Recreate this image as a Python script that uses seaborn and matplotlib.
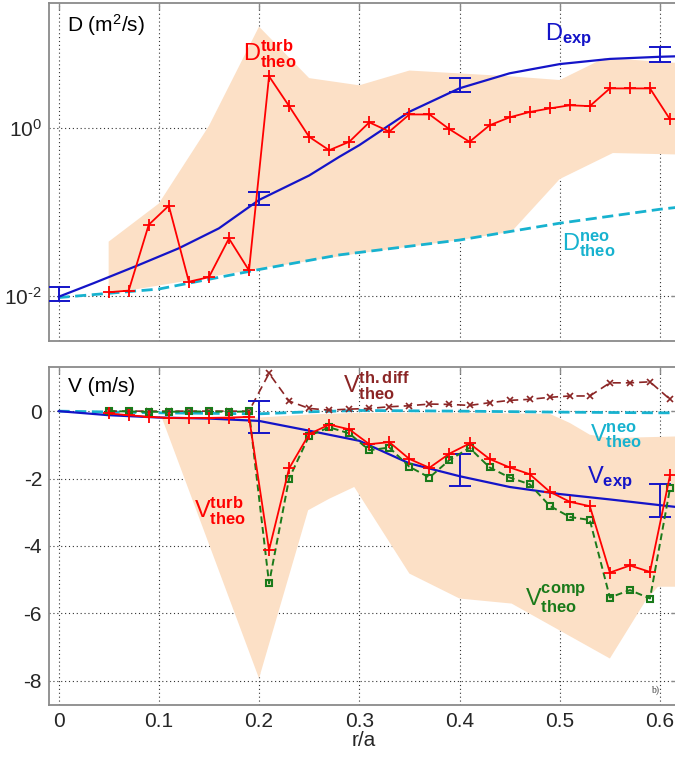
import numpy as np
import matplotlib
matplotlib.use("Agg")
import matplotlib.pyplot as plt
import seaborn as sns

# --- data ---
# radial grid of the turbulence simulations
r_sim = [0.05, 0.07, 0.09, 0.11, 0.13, 0.15, 0.17, 0.19, 0.21, 0.23,
         0.25, 0.27, 0.29, 0.31, 0.33, 0.35, 0.37, 0.39, 0.41, 0.43,
         0.45, 0.47, 0.49, 0.51, 0.53, 0.55, 0.57, 0.59, 0.61]

# top panel: diffusion (m^2/s)
d_turb = [0.011, 0.0115, 0.070, 0.118, 0.0147, 0.0166, 0.048, 0.020, 4.1, 1.81,
          0.78, 0.54, 0.68, 1.16, 0.90, 1.44, 1.44, 0.96, 0.68, 1.07,
          1.33, 1.54, 1.70, 1.85, 1.81, 2.94, 2.94, 2.94, 1.26]

r_exp = [0.0, 0.035, 0.08, 0.12, 0.16, 0.2, 0.25, 0.28, 0.3, 0.35, 0.4, 0.45, 0.5, 0.55, 0.6, 0.618]
d_exp = [0.0097, 0.0141, 0.0232, 0.0367, 0.0634, 0.138, 0.27, 0.45, 0.62, 1.55, 2.95, 4.45, 5.73, 6.6, 7.0, 7.1]

r_neo = [0.0, 0.1, 0.2, 0.28, 0.4, 0.45, 0.5, 0.6, 0.618]
d_neo = [0.0095, 0.012, 0.0205, 0.0306, 0.046, 0.058, 0.073, 0.107, 0.113]

d_err_r = [0.0, 0.2, 0.4, 0.6]
d_err_lo = [0.00865, 0.12, 2.69, 6.1]
d_err_hi = [0.0127, 0.171, 3.87, 9.06]

d_band_top_r = [0.05, 0.1, 0.15, 0.2, 0.25, 0.3, 0.35, 0.45, 0.5, 0.545, 0.618]
d_band_top = [0.044, 0.125, 1.05, 16.0, 3.9, 3.2, 4.8, 4.1, 3.7, 6.8, 5.9]
d_band_bot_r = [0.05, 0.2, 0.3, 0.4, 0.452, 0.5, 0.553, 0.618]
d_band_bot = [0.0105, 0.021, 0.032, 0.046, 0.058, 0.245, 0.50, 0.48]

# bottom panel: convection (m/s)
v_turb = [-0.07, -0.12, -0.17, -0.20, -0.20, -0.20, -0.19, -0.17, -4.12, -1.70,
          -0.68, -0.40, -0.54, -0.98, -0.92, -1.42, -1.68, -1.26, -0.96, -1.42,
          -1.67, -1.87, -2.39, -2.69, -2.82, -4.79, -4.58, -4.77, -1.90]
v_comp = [0.0, -0.01, -0.02, -0.02, -0.01, -0.01, -0.02, -0.01, -5.11, -2.0,
          -0.73, -0.48, -0.66, -1.16, -1.08, -1.65, -1.97, -1.45, -1.09, -1.67,
          -1.97, -2.17, -2.81, -3.14, -3.23, -5.53, -5.31, -5.56, -2.29]
v_thdiff = [0.0, 0.0, 0.0, 0.0, 0.0, 0.0, 0.0, 0.0, 1.12, 0.30,
            0.08, 0.03, 0.06, 0.08, 0.13, 0.16, 0.21, 0.20, 0.17, 0.25,
            0.32, 0.35, 0.41, 0.45, 0.45, 0.84, 0.84, 0.87, 0.35]

rv_exp = [0.0, 0.05, 0.1, 0.15, 0.2, 0.25, 0.3, 0.35, 0.4, 0.45, 0.5, 0.55, 0.6, 0.618]
v_exp = [0.0, -0.12, -0.19, -0.22, -0.29, -0.58, -0.88, -1.55, -1.93, -2.25, -2.46, -2.62, -2.79, -2.85]

rv_neo = [0.0, 0.1, 0.2, 0.25, 0.3, 0.4, 0.5, 0.6, 0.618]
v_neo = [0.0, -0.05, -0.08, -0.02, 0.02, 0.0, -0.03, -0.05, -0.05]

v_err_r = [0.2, 0.4, 0.6]
v_err_lo = [-0.66, -2.22, -3.14]
v_err_hi = [0.30, -1.28, -2.17]

v_band_top_r = [0.103, 0.2, 0.25, 0.3, 0.4, 0.49, 0.51, 0.53, 0.55, 0.618]
v_band_top = [-0.19, -0.19, -0.1, -0.05, -0.05, -0.08, -0.35, -0.70, -0.80, -0.75]
v_band_bot_r = [0.103, 0.2, 0.249, 0.27, 0.295, 0.35, 0.40, 0.452, 0.55, 0.586, 0.598, 0.618]
v_band_bot = [-0.19, -7.93, -2.94, -2.6, -2.25, -4.82, -5.56, -5.71, -7.34, -5.61, -5.21, -5.21]

x_ticks = [0, 0.1, 0.2, 0.3, 0.4, 0.5, 0.6]
x_ticklabels = ['0', '0.1', '0.2', '0.3', '0.4', '0.5', '0.6']
d_ticks = [1e-2, 1e0]
d_ticklabels = ['$10^{\u20102}$', '$10^{0}$']
v_ticks = [-8, -6, -4, -2, 0]

# --- style ---
sns.set_style("white")
plt.rcParams['font.family'] = ['Liberation Sans', 'DejaVu Sans']
plt.rcParams['mathtext.fontset'] = 'custom'
plt.rcParams['mathtext.rm'] = 'Liberation Sans'
plt.rcParams['mathtext.it'] = 'Liberation Sans:italic'
plt.rcParams['mathtext.bf'] = 'Liberation Sans:bold'
plt.rcParams['axes.unicode_minus'] = False

RED = '#FF0000'
BLUE = '#1414C8'
CYAN = '#17B2CF'
GREEN = '#1A7A1A'
MAROON = '#8B2525'
PEACH = '#FCE0C6'
SPINE = '#8A8A8A'

fig = plt.figure(figsize=(6.75, 7.58), dpi=100)
ax1 = fig.add_axes([0.0726, 0.5505, 0.9319, 0.4451])
ax2 = fig.add_axes([0.0726, 0.0699, 0.9319, 0.4455])


def style_axes(ax):
    ax.set_axisbelow(True)
    ax.grid(True, color='#333333', linestyle=(0, (1, 2.5)), linewidth=0.8)
    for s in ax.spines.values():
        s.set_color(SPINE)
        s.set_linewidth(1.3)
    ax.tick_params(direction='in', length=5, width=1.0, color=SPINE,
                   top=True, right=True, labelsize=15, pad=5)
    ax.set_xticks(x_ticks)
    ax.set_xlim(-0.0095, 0.618)
    ax.set_xlabel('')
    ax.set_ylabel('')


# ---------- top panel: D ----------
ax1.set_yscale('log')
ax1.fill(d_band_top_r + d_band_bot_r[::-1], d_band_top + d_band_bot[::-1],
         color=PEACH, lw=0, zorder=1)
sns.lineplot(x=r_neo, y=d_neo, ax=ax1, color=CYAN, lw=2.0,
             linestyle=(0, (4, 2)), errorbar=None, zorder=3)
sns.lineplot(x=r_exp, y=d_exp, ax=ax1, color=BLUE, lw=1.6, errorbar=None, zorder=3)
d_mid = [(a + b) / 2 for a, b in zip(d_err_lo, d_err_hi)]
ax1.errorbar(d_err_r, d_mid,
             yerr=[[m - a for m, a in zip(d_mid, d_err_lo)],
                   [b - m for m, b in zip(d_mid, d_err_hi)]],
             fmt='none', ecolor=BLUE, elinewidth=1.4, capsize=8, capthick=1.4, zorder=4)
sns.lineplot(x=r_sim, y=d_turb, ax=ax1, color=RED, lw=1.3, marker='+',
             markersize=8, markeredgewidth=1.3, markeredgecolor=RED,
             errorbar=None, zorder=5)

style_axes(ax1)
ax1.set_ylim(0.00291, 30.3)
ax1.set_yticks(d_ticks)
ax1.set_yticklabels(d_ticklabels)
ax1.yaxis.set_minor_locator(matplotlib.ticker.NullLocator())
ax1.tick_params(labelbottom=False)

ax1.text(0.029, 0.936, 'D (m$^2$/s)', transform=ax1.transAxes, fontsize=15,
         ha='left', va='center', color='black')
ax1.text(0.184, 6.1, r'$\mathrm{D}^{\bf turb}_{\bf theo}$', color=RED,
         fontsize=17, ha='left', va='baseline')
ax1.text(0.485, 11.1, r'$\mathrm{D}_{\bf exp}$', color=BLUE,
         fontsize=17, ha='left', va='baseline')
ax1.text(0.502, 0.0343, r'$\mathrm{D}^{\bf neo}_{\bf theo}$', color=CYAN,
         fontsize=17, ha='left', va='baseline')

# ---------- bottom panel: V ----------
ax2.fill(v_band_top_r + v_band_bot_r[::-1], v_band_top + v_band_bot[::-1],
         color=PEACH, lw=0, zorder=1)
sns.lineplot(x=rv_neo, y=v_neo, ax=ax2, color=CYAN, lw=2.0,
             linestyle=(0, (4, 2)), errorbar=None, zorder=3)
sns.lineplot(x=r_sim, y=v_thdiff, ax=ax2, color=MAROON, lw=1.2,
             linestyle=(0, (5, 3)), marker='x', markersize=5,
             markeredgewidth=1.2, markeredgecolor=MAROON, errorbar=None, zorder=3)
sns.lineplot(x=rv_exp, y=v_exp, ax=ax2, color=BLUE, lw=1.6, errorbar=None, zorder=3)
v_mid = [(a + b) / 2 for a, b in zip(v_err_lo, v_err_hi)]
ax2.errorbar(v_err_r, v_mid,
             yerr=[[m - a for m, a in zip(v_mid, v_err_lo)],
                   [b - m for m, b in zip(v_mid, v_err_hi)]],
             fmt='none', ecolor=BLUE, elinewidth=1.4, capsize=8, capthick=1.4, zorder=4)
sns.lineplot(x=r_sim, y=v_turb, ax=ax2, color=RED, lw=1.3, marker='+',
             markersize=8, markeredgewidth=1.3, markeredgecolor=RED,
             errorbar=None, zorder=5)
sns.lineplot(x=r_sim, y=v_comp, ax=ax2, color=GREEN, lw=1.4,
             linestyle=(0, (3.5, 2)), marker='s', markersize=4.5,
             markerfacecolor='none', markeredgewidth=1.5, markeredgecolor=GREEN,
             errorbar=None, zorder=4)

style_axes(ax2)
ax2.set_ylim(-8.72, 1.30)
ax2.set_yticks(v_ticks)
ax2.set_xticklabels(x_ticklabels)
ax2.set_xlabel('r/a', fontsize=15, labelpad=0)

ax2.text(0.030, 0.942, 'V (m/s)', transform=ax2.transAxes, fontsize=15,
         ha='left', va='center', color='black')
ax2.text(0.284, 0.525, r'$\mathrm{V}^{\bf th.diff}_{\bf theo}$', color=MAROON,
         fontsize=17, ha='left', va='baseline')
ax2.text(0.530, -0.91, r'$\mathrm{V}^{\bf neo}_{\bf theo}$', color=CYAN,
         fontsize=17, ha='left', va='baseline')
ax2.text(0.527, -2.15, r'$\mathrm{V}_{\bf exp}$', color=BLUE,
         fontsize=17, ha='left', va='baseline')
ax2.text(0.135, -3.18, r'$\mathrm{V}^{\bf turb}_{\bf theo}$', color=RED,
         fontsize=17, ha='left', va='baseline')
ax2.text(0.465, -5.81, r'$\mathrm{V}^{\bf comp}_{\bf theo}$', color=GREEN,
         fontsize=17, ha='left', va='baseline')
ax2.text(0.591, -8.37, 'b)', family='Liberation Serif', fontsize=7,
         color='#444444', ha='left', va='baseline')

fig.savefig('out.png', dpi=100)
